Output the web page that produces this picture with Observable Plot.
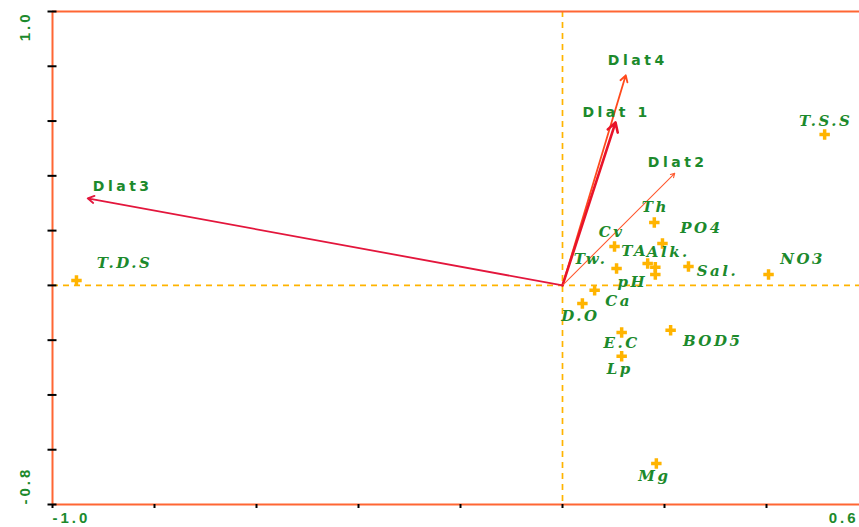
<!DOCTYPE html>
<html><head><meta charset="utf-8">
<script src="https://cdn.jsdelivr.net/npm/d3@7"></script>
<script src="https://cdn.jsdelivr.net/npm/@observablehq/plot@0.6"></script>
<style>html,body{margin:0;padding:0;background:#fff;overflow:hidden;}</style>
</head><body><div id="chart"></div>
<script>
// Environmental variables (site scores)
const variables = ["T.S.S","T.D.S","NO3","Th","PO4","Cv","Tw.","TA","Alk.","pH","Sal.","Ca","D.O","E.C","Lp","BOD5","Mg"];
const varX = [0.514,-0.953,0.404,0.180,0.196,0.102,0.106,0.167,0.182,0.182,0.247,0.063,0.039,0.116,0.116,0.212,0.184];
const varY = [0.551,0.018,0.040,0.230,0.153,0.142,0.062,0.080,0.066,0.040,0.069,-0.018,-0.066,-0.172,-0.259,-0.164,-0.650];
// Species arrows
const species = ["Dlat4","Dlat 1","Dlat2","Dlat3"];
const spX = [0.124,0.104,0.220,-0.931];
const spY = [0.767,0.595,0.409,0.318];
// Axis ticks and labels
const xTicks = [-1.0,-0.8,-0.6,-0.4,-0.2,0,0.2,0.4,0.6];
const yTicks = [-0.8,-0.6,-0.4,-0.2,0,0.2,0.4,0.6,0.8,1.0];
const xTickLabels = [{v:-1.0,t:"-1.0"},{v:0.6,t:"0.6"}];
const yTickLabels = [{v:1.0,t:"1.0"},{v:-0.8,t:"-0.8"}];

// Styling: label offsets in pixels
const labelOffset = {
  "T.S.S":[0,-13],"T.D.S":[47,-17],"NO3":[33,-15],"Th":[0,-15],"PO4":[38,-15],
  "Cv":[-4,-14],"Tw.":[-27,-9],"TA":[-14,-12],"Alk.":[12,-15],"pH":[-24,8],
  "Sal.":[28,5],"Ca":[23,11],"D.O":[-3,13],"E.C":[-1,11],"Lp":[-3,13],
  "BOD5":[41,11],"Mg":[-3,13]
};
const arrowStyle = {
  "Dlat4":{stroke:"#ff4a1c",w:1.8,dx:10,dy:-15},
  "Dlat 1":{stroke:"#e8142a",w:2.6,dx:-1,dy:-10},
  "Dlat2":{stroke:"#ff5a30",w:1.1,dx:1,dy:-11},
  "Dlat3":{stroke:"#e3163c",w:1.8,dx:33,dy:-12}
};

const vars = variables.map((n,i)=>({name:n,x:varX[i],y:varY[i]}));
const sp = species.map((n,i)=>({name:n,x:spX[i],y:spY[i]}));

const green = "#1c8a2c";
const serif = "DejaVu Serif";
const sans = "DejaVu Sans";
const sansTick = "Liberation Sans";

const marks = [];
marks.push(Plot.ruleY([0],{stroke:"#ffb400",strokeWidth:1.7,strokeDasharray:"6,5"}));
marks.push(Plot.ruleX([0],{stroke:"#ffb400",strokeWidth:1.7,strokeDasharray:"6,5"}));
marks.push(Plot.ruleY([1.0,-0.8],{stroke:"#ff6633",strokeWidth:2}));
marks.push(Plot.ruleX([-1.0,0.6],{stroke:"#ff6633",strokeWidth:2}));
for (const s of sp) {
  const st = arrowStyle[s.name];
  marks.push(Plot.arrow([s],{x1:()=>0,y1:()=>0,x2:"x",y2:"y",stroke:st.stroke,strokeWidth:st.w,headLength:6,headAngle:60}));
  marks.push(Plot.text([s],{x:"x",y:"y",text:"name",dx:st.dx+2,dy:st.dy,fill:green,fontFamily:sans,fontWeight:"bold",fontSize:14}));
}
marks.push(Plot.dot(vars,{x:"x",y:"y",symbol:"cross",r:4.4,fill:"#ffb400",stroke:"none"}));
for (const v of vars) {
  const o = labelOffset[v.name];
  marks.push(Plot.text([v],{x:"x",y:"y",text:"name",dx:o[0]+1,dy:o[1],fill:green,fontFamily:serif,fontStyle:"italic",fontWeight:"bold",fontSize:15}));
}
marks.push(Plot.axisY({ticks:yTicks,tickSize:9,dx:4.5,tickFormat:()=>"",stroke:"#000",strokeWidth:2,label:null}));
marks.push(Plot.axisX({ticks:xTicks,tickSize:4,tickFormat:()=>"",stroke:"#000",strokeWidth:2,label:null}));
marks.push(Plot.text([xTickLabels[0]],{x:"v",y:()=>-0.8,text:"t",dy:14,textAnchor:"start",fill:green,fontFamily:sansTick,fontWeight:"bold",fontSize:15}));
marks.push(Plot.text([xTickLabels[1]],{x:"v",y:()=>-0.8,text:"t",dx:-10,dy:14,textAnchor:"end",fill:green,fontFamily:sansTick,fontWeight:"bold",fontSize:15}));
marks.push(Plot.text([yTickLabels[0]],{x:()=>-1.0,y:"v",text:"t",dx:-27,rotate:-90,textAnchor:"end",fill:green,fontFamily:sansTick,fontWeight:"bold",fontSize:15}));
marks.push(Plot.text([yTickLabels[1]],{x:()=>-1.0,y:"v",text:"t",dx:-27,rotate:-90,textAnchor:"start",fill:green,fontFamily:sansTick,fontWeight:"bold",fontSize:15}));

const chart = Plot.plot({
  width:859, height:527,
  marginLeft:52, marginTop:11, marginBottom:23, marginRight:0,
  style:{background:"#fff", overflow:"visible"},
  x:{domain:[-1.0,0.6], range:[52,868]},
  y:{domain:[-0.8,1.0], range:[504,11]},
  marks
});
// letter spacing to imitate the wide original fonts
d3.select(chart).selectAll("g[aria-label=text]").each(function(){
  const g = d3.select(this), f = g.attr("font-family") || "";
  const ls = f.includes("Serif") ? "2.5px" : f.includes("DejaVu Sans") ? "3.5px" : "3px";
  g.attr("letter-spacing", ls);
});
document.getElementById("chart").appendChild(chart);
</script>
</body></html>
